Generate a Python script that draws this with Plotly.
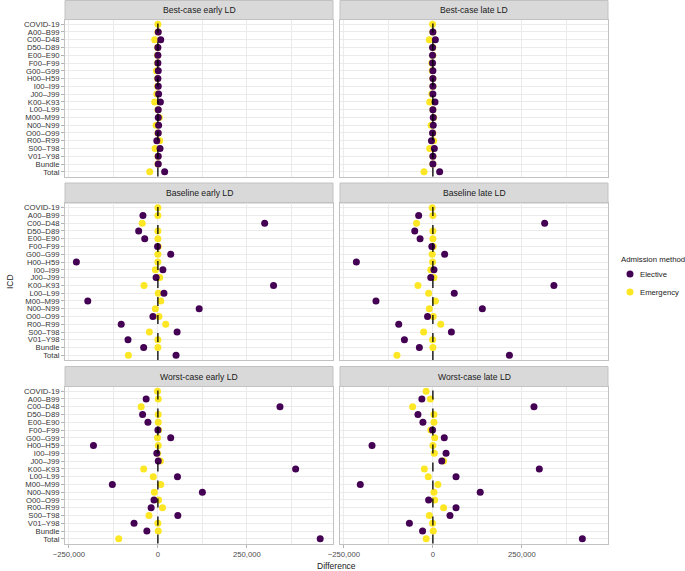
import plotly.graph_objects as go
from plotly.subplots import make_subplots

# ---------------- data ----------------
categories = ["COVID-19", "A00\u2013B99", "C00\u2013D48", "D50\u2013D89", "E00\u2013E90",
              "F00\u2013F99", "G00\u2013G99", "H00\u2013H59", "I00\u2013I99", "J00\u2013J99",
              "K00\u2013K93", "L00\u2013L99", "M00\u2013M99", "N00\u2013N99", "O00\u2013O99",
              "R00\u2013R99", "S00\u2013T98", "V01\u2013Y98", "Bundle", "Total"]

panel_titles = ["Best-case early LD", "Best-case late LD",
                "Baseline early LD", "Baseline late LD",
                "Worst-case early LD", "Worst-case late LD"]

# values in thousands (difference)
best_early_elective = [None, 1, 8, 0, 0, 0, 1, 0, 1, 2, 7, 1, 1, 2, 1, -3, 6, 1, 1, 19]
best_early_emergency = [0, 0, -9, -1, -1, -1, -4, -1, -1, -3, -9, 0, 4, -5, 0, 5, -8, 0, 0, -23]
best_late_elective = [None, 0, 7, -1, -1, -1, 0, 0, 0, 0, 6, 0, 1, 1, -1, -4, 4, 0, 0, 19]
best_late_emergency = [-1, 0, -10, 0, 0, -3, -2, 0, 0, -3, -9, 0, 2, -5, 0, 2, -9, 0, 0, -25]

base_early_elective = [None, -42, 300, -54, -37, -1, 36, -229, 14, -5, 325, 17, -197, 116, -14, -103, 54, -84, -40, 51]
base_early_emergency = [0, 0, -44, 0, 0, 1, 0, 0, -7, 5, -39, 1, 8, -7, 3, 22, -24, 0, 0, -83]
base_late_elective = [None, -40, 314, -51, -36, -3, 33, -215, 3, -6, 340, 60, -160, 139, -15, -96, 52, -80, -38, 215]
base_late_emergency = [-2, 0, -46, 0, 0, 1, -2, -1, -6, 3, -42, -12, 7, -10, 1, 22, -26, -1, 0, -101]

worst_early_elective = [None, -33, 343, -43, -28, 0, 36, -181, -3, 1, 387, 55, -128, 125, -11, -19, 56, -67, -31, 456]
worst_early_emergency = [-1, 1, -47, 1, 1, 2, -1, 1, -1, 7, -40, -13, 8, -10, 2, 13, -25, 0, 1, -110]
worst_late_elective = [None, -31, 284, -42, -28, -1, 32, -171, 37, 25, 299, 65, -204, 133, -12, 65, 48, -66, -29, 420]
worst_late_emergency = [-19, -7, -57, 3, 3, -6, 5, 0, 4, 30, -24, -13, 14, 3, 5, 30, -10, -1, 1, -19]

elective_series = [best_early_elective, best_late_elective, base_early_elective,
                   base_late_elective, worst_early_elective, worst_late_elective]
emergency_series = [best_early_emergency, best_late_emergency, base_early_emergency,
                    base_late_emergency, worst_early_emergency, worst_late_emergency]

x_tick_vals = [-250000, 0, 250000]
x_tick_text = ["\u2212250,000", "0", "250,000"]
x_minor_vals = [-125000, 125000, 375000]

legend_title = "Admission method"
series_names = ["Elective", "Emergency"]
series_colors = {"Elective": "#440154", "Emergency": "#FDE725"}

# ---------------- layout geometry (pixels) ----------------
W, H = 685, 571
col_px = [(65, 333), (340, 608)]
row_strip_px = [(0.5, 19.5), (183, 203), (366.5, 386.5)]
row_plot_px = [(19.5, 176.5), (203, 360), (386.5, 543.5)]

fig = make_subplots(rows=3, cols=2)

def scale(vals):
    return [None if v is None else v * 1000 for v in vals]

font_fam = "Liberation Sans, Arial, sans-serif"
grid_c = "#EBEBEB"
border_c = "#C2C2C2"
tick_size = 7.7

shapes = []
annotations = []
for i in range(6):
    r, c = i // 2, i % 2
    row, col = r + 1, c + 1
    fig.add_trace(go.Scatter(
        x=scale(emergency_series[i]), y=categories, mode="markers",
        name="Emergency", showlegend=False,
        marker=dict(color=series_colors["Emergency"], size=7, line=dict(width=0)),
        hoverinfo="skip"), row=row, col=col)
    fig.add_trace(go.Scatter(
        x=scale(elective_series[i]), y=categories, mode="markers",
        name="Elective", showlegend=False,
        marker=dict(color=series_colors["Elective"], size=7, line=dict(width=0)),
        hoverinfo="skip"), row=row, col=col)

    ax = "" if i == 0 else str(i + 1)
    x0, x1 = col_px[c]
    pt, pb = row_plot_px[r]
    xd = [x0 / W, x1 / W]
    yd = [1 - pb / H, 1 - pt / H]
    bottom = (r == 2)
    left = (c == 0)
    fig.layout["xaxis" + ax].update(
        domain=xd, range=[-261000, 492000],
        tickmode="array", tickvals=x_tick_vals, ticktext=x_tick_text,
        showticklabels=bottom, ticks="outside" if bottom else "",
        ticklen=3, tickcolor="#B3B3B3", tickwidth=1,
        tickfont=dict(family=font_fam, size=tick_size, color="#4D4D4D"),
        showgrid=True, gridcolor=grid_c, gridwidth=1,
        minor=dict(tickvals=x_minor_vals, showgrid=True, gridcolor=grid_c, gridwidth=0.6, ticks=""),
        zeroline=False, showline=True, mirror=True, linecolor=border_c, linewidth=1)
    fig.layout["yaxis" + ax].update(
        domain=yd, type="category", categoryorder="array", categoryarray=categories,
        tickmode="array", tickvals=categories, ticktext=categories,
        range=[len(categories) - 0.4, -0.6],
        showticklabels=left, ticks="outside" if left else "",
        ticklen=3, tickcolor="#B3B3B3", tickwidth=1,
        tickfont=dict(family=font_fam, size=tick_size, color="#333333"),
        showgrid=True, gridcolor=grid_c, gridwidth=1,
        zeroline=False, showline=True, mirror=True, linecolor=border_c, linewidth=1)

    # dashed zero line
    shapes.append(dict(type="line", xref="x" + ax, yref="y" + ax + " domain",
                       x0=0, x1=0, y0=0, y1=1, layer="above",
                       line=dict(color="black", width=1.3, dash="dash")))
    # strip
    st, sb = row_strip_px[r]
    shapes.append(dict(type="rect", xref="paper", yref="paper",
                       x0=x0 / W, x1=x1 / W, y0=1 - sb / H, y1=1 - st / H,
                       fillcolor="#D9D9D9", line=dict(color=border_c, width=1), layer="below"))
    annotations.append(dict(text=panel_titles[i], xref="paper", yref="paper",
                            x=(x0 + x1) / 2 / W, y=1 - (st + sb) / 2 / H,
                            xanchor="center", yanchor="middle", showarrow=False,
                            font=dict(family=font_fam, size=8.6, color="#1A1A1A")))

annotations.append(dict(text="Difference", xref="paper", yref="paper",
                        x=(65 + 608) / 2 / W, y=1 - 566 / H, xanchor="center", yanchor="middle",
                        showarrow=False, font=dict(family=font_fam, size=8.5, color="#1A1A1A")))
annotations.append(dict(text="ICD", xref="paper", yref="paper", textangle=-90,
                        x=10 / W, y=1 - 282 / H, xanchor="center", yanchor="middle",
                        showarrow=False, font=dict(family=font_fam, size=8.5, color="#1A1A1A")))

# legend (key glyphs + labels)
annotations.append(dict(text=legend_title, xref="paper", yref="paper",
                        x=619 / W, y=1 - 260 / H, xanchor="left", yanchor="middle",
                        showarrow=False, font=dict(family=font_fam, size=7.8, color="#1A1A1A")))
for k, name in enumerate(series_names):
    cy = 274 + 18 * k
    shapes.append(dict(type="circle", xref="paper", yref="paper",
                       xsizemode="pixel", ysizemode="pixel",
                       xanchor=630 / W, yanchor=1 - cy / H,
                       x0=-3.5, x1=3.5, y0=-3.5, y1=3.5,
                       fillcolor=series_colors[name], line=dict(width=0)))
    annotations.append(dict(text=name, xref="paper", yref="paper",
                            x=638 / W, y=1 - cy / H, xanchor="left", yanchor="middle",
                            showarrow=False, font=dict(family=font_fam, size=7.7, color="#1A1A1A")))

fig.update_layout(
    width=W, height=H, margin=dict(l=0, r=0, t=0, b=0, autoexpand=False),
    paper_bgcolor="white", plot_bgcolor="white",
    shapes=shapes, annotations=annotations, showlegend=False,
)

fig.write_html("out.html", config={"displayModeBar": False},
               post_script="document.body.style.margin='0';document.body.style.padding='0';")
